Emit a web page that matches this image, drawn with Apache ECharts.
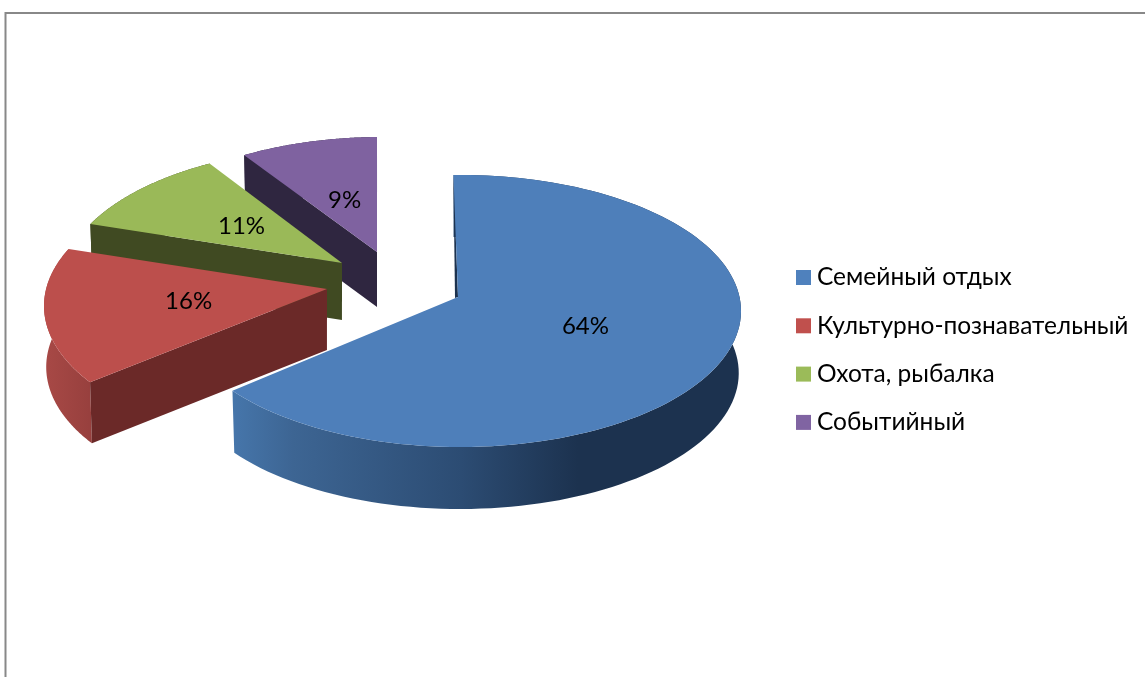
<!DOCTYPE html>
<html>
<head>
<meta charset="utf-8">
<style>html,body{margin:0;padding:0;background:#fff}#c{width:1145px;height:677px}</style>
<script src="https://cdn.jsdelivr.net/npm/echarts@6/dist/echarts.min.js"></script>
</head>
<body>
<div id="c"></div>
<script>
var categories = ['Семейный отдых', 'Культурно-познавательный', 'Охота, рыбалка', 'Событийный'];
var shares = [64, 16, 11, 9];

var colors = ['#4f81bd', '#c0504d', '#9bbb59', '#8064a2'];
var topColors = ['#4e7fba', '#bc4f4c', '#9ab958', '#7f62a0'];
var innerColors = ['#1c324f', '#6b2928', '#404a22', '#2f2640'];
var FONT = 'Lato, "Open Sans", sans-serif';
var FONT_SIZE = 24;
var LEGEND_FONT_SIZE = 24.5;

// exploded-slice layout: apex A, ellipse centre C and radii, extrusion depth, direction skew
var layout = [
  {ax: 458, ay: 297, cx: 460, cy: 311, rx: 281, ry: 136, depth: 62, k: 2.02, tilt: 0.037, lf: 0.48},
  {ax: 327, ay: 289, cx: 320, cy: 306, rx: 276, ry: 138, depth: 61, k: 2.1, tilt: 0, lf: 0.49},
  {ax: 342, ay: 263, cx: 337, cy: 286, rx: 276, ry: 138, depth: 57, k: 2.1, tilt: 0, lf: 0.5},
  {ax: 377, ay: 252, cx: 381, cy: 275, rx: 276, ry: 138, depth: 55, k: 2.16, tilt: 0, lf: 0.47}
];
var BOTTOM_SCALE = 0.992;

var total = shares.reduce(function (a, b) { return a + b; }, 0);

function rimPoint(L, deg) {
  var t = deg * Math.PI / 180;
  var dx = L.k * Math.sin(t) - L.tilt * Math.cos(t), dy = -Math.cos(t);
  var ox = L.ax - L.cx, oy = L.ay - L.cy;
  var rx2 = L.rx * L.rx, ry2 = L.ry * L.ry;
  var a = dx * dx / rx2 + dy * dy / ry2;
  var b = 2 * (ox * dx / rx2 + oy * dy / ry2);
  var c = ox * ox / rx2 + oy * oy / ry2 - 1;
  var s = (-b + Math.sqrt(b * b - 4 * a * c)) / (2 * a);
  return [L.ax + s * dx, L.ay + s * dy];
}
function lower(L, p) {
  return [L.cx + (p[0] - L.cx) * BOTTOM_SCALE, p[1] + L.depth];
}
function rimGradient(i) {
  if (i === 0) {
    return {type: 'linear', global: true, x: 232, y: 0, x2: 741, y2: 0, colorStops: [
      {offset: 0, color: '#4676ab'}, {offset: 0.12, color: '#3d6593'},
      {offset: 0.45, color: '#2c4c73'}, {offset: 0.68, color: '#1c324f'}, {offset: 1, color: '#1c324f'}
    ]};
  }
  if (i === 1) {
    return {type: 'linear', global: true, x: 44, y: 0, x2: 95, y2: 0, colorStops: [
      {offset: 0, color: '#a84946'}, {offset: 1, color: '#963f3d'}
    ]};
  }
  return innerColors[i];
}

function makeRender(i) {
  return function (params, api) {
    var L = layout[i];
    var start = 0;
    for (var j = 0; j < i; j++) start += shares[j];
    var a0 = start / total * 360;
    var a1 = a0 + api.value(0) / total * 360;
    var steps = 120, rim = [], k;
    for (k = 0; k <= steps; k++) rim.push(rimPoint(L, a0 + (a1 - a0) * k / steps));
    var A = [L.ax, L.ay], kids = [];

    // outer rim band
    var band = rim.slice();
    for (k = steps; k >= 0; k--) band.push(lower(L, rim[k]));
    kids.push({type: 'polygon', shape: {points: band}, style: {fill: rimGradient(i)}});

    // cut faces
    if (i === 0) {
      kids.push({type: 'polygon', shape: {points: [rim[0], A, [A[0] - 3, A[1] + 1], [rim[0][0], rim[0][1] + 6]]},
        style: {fill: innerColors[0]}});
    } else {
      var e = rim[0];
      kids.push({type: 'polygon', shape: {points: [A, e, lower(L, e), lower(L, A)]}, style: {fill: innerColors[i]}});
    }

    // top surface
    kids.push({type: 'polygon', shape: {points: [A].concat(rim)}, style: {fill: topColors[i]}});

    // value label
    var mid = rimPoint(L, (a0 + a1) / 2);
    kids.push({type: 'text', style: {
      text: api.value(0) + '%',
      x: L.ax + (mid[0] - L.ax) * L.lf,
      y: L.ay + (mid[1] - L.ay) * L.lf,
      fill: '#000', font: FONT_SIZE + 'px ' + FONT, align: 'center', verticalAlign: 'middle'
    }});
    return {type: 'group', children: kids};
  };
}

var series = categories.map(function (name, i) {
  return {
    type: 'custom', name: name, coordinateSystem: 'none', silent: true,
    z: 10 - i, animation: false, renderItem: makeRender(i),
    itemStyle: {color: colors[i]}, data: [[shares[i]]]
  };
});

var chart = echarts.init(document.getElementById('c'), null, {renderer: 'canvas'});
chart.setOption({
  animation: false,
  backgroundColor: '#fff',
  legend: {
    data: categories, orient: 'vertical', left: 796, top: 265, padding: 0,
    icon: 'rect', itemWidth: 15, itemHeight: 15, itemGap: 23.3,
    textStyle: {fontFamily: FONT, fontSize: LEGEND_FONT_SIZE, color: '#000', padding: [0, 0, 0, 1]},
    selectedMode: false
  },
  graphic: [{
    type: 'polyline', silent: true,
    shape: {points: [[5.5, 677], [5.5, 13], [1145, 13]]},
    style: {stroke: '#888', lineWidth: 2, fill: null}
  }],
  series: series
});
</script>
</body>
</html>
